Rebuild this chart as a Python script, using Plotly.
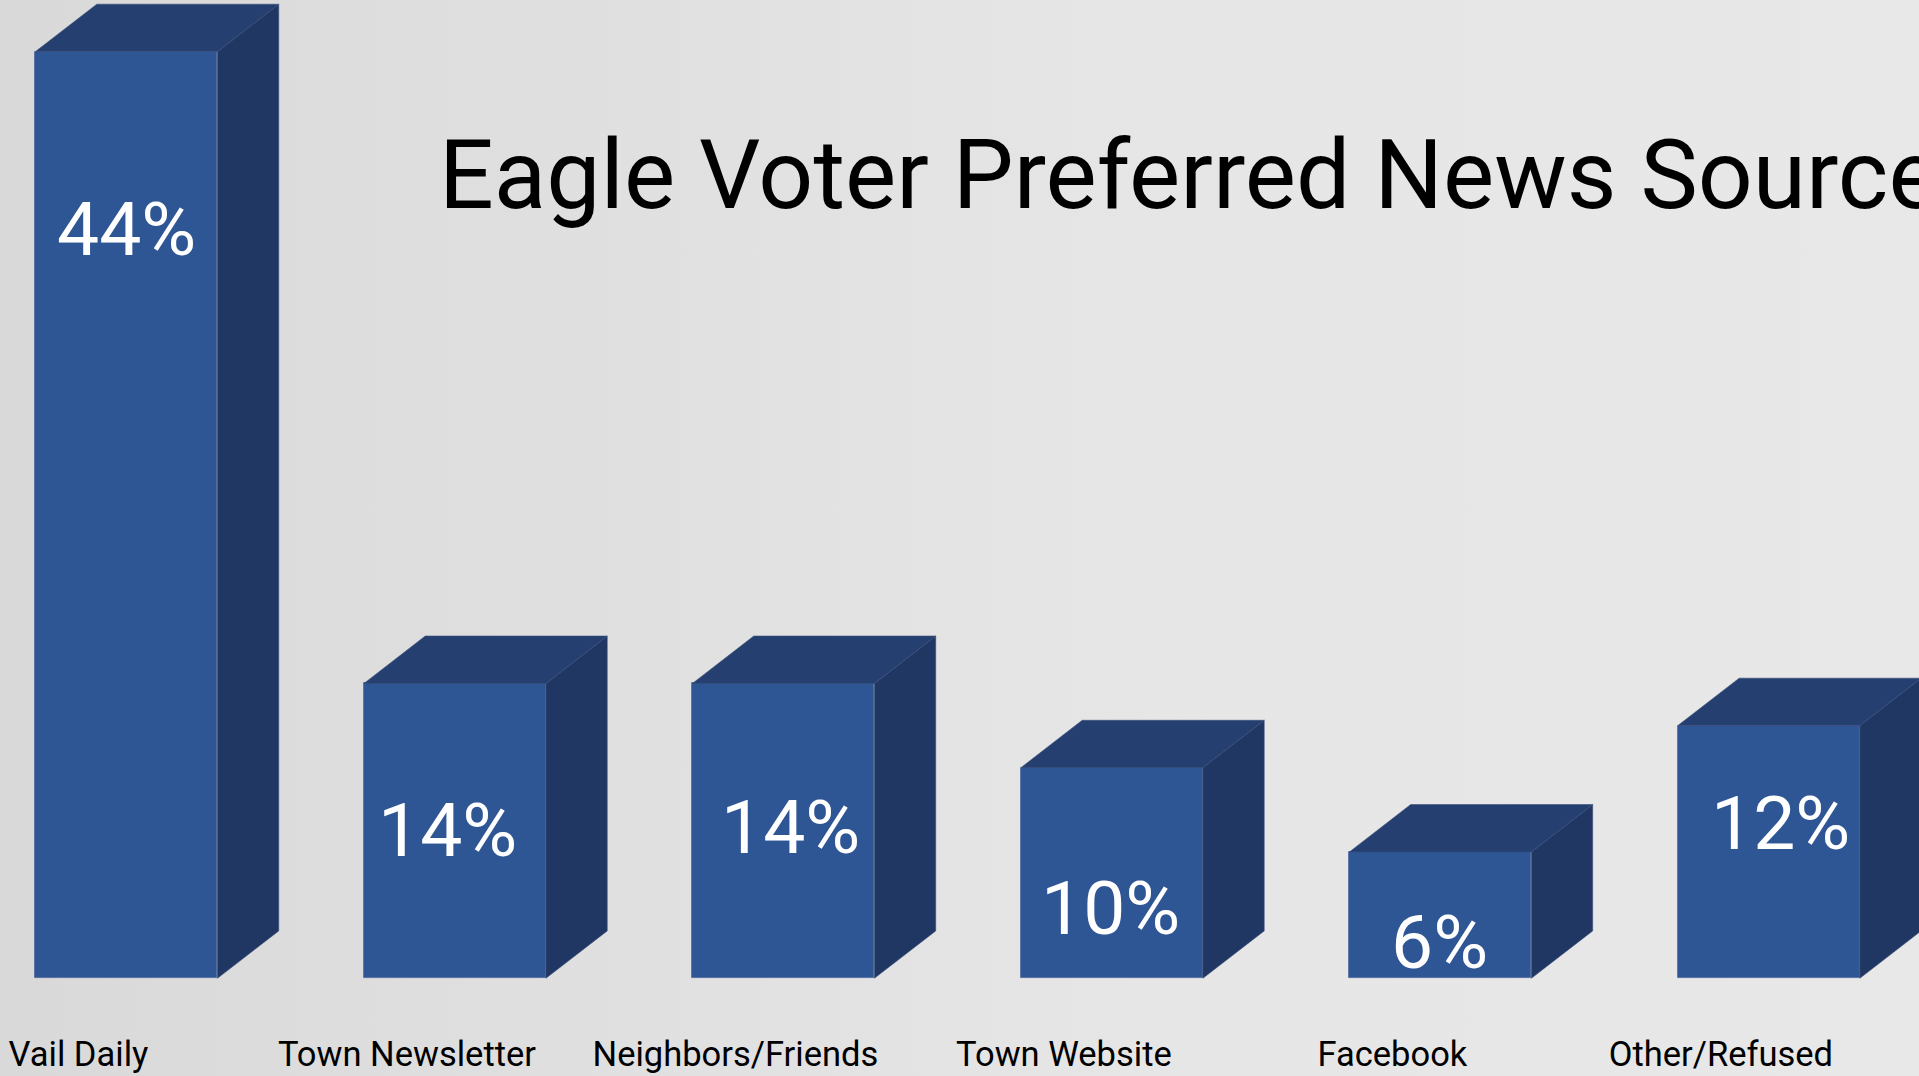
import plotly.graph_objects as go

# ---------------- data ----------------
categories = ["Vail Daily", "Town Newsletter", "Neighbors/Friends",
              "Town Website", "Facebook", "Other/Refused"]
values = [44, 14, 14, 10, 6, 12]
value_labels = ["44%", "14%", "14%", "10%", "6%", "12%"]
title_text = "Eagle Voter Preferred News Source"

# ---------------- layout / style ----------------
W, H = 1919, 1076
FRONT = "#2E5594"
TOP = "#243F70"
SIDE = "#203763"
BAR_W = 0.554          # bar width in category units
DEPTH_X = 0.1866       # 3-D depth offset (category units)
DEPTH_Y = 2.25         # 3-D depth offset (value units)
X_RANGE = [-0.385, 5.457]
Y_RANGE = [-4.64, 46.45]
label_y = [35.6, 7.05, 7.2, 3.35, 1.72, 7.35]   # vertical placement of value labels
label_dx = [0, -7, 7, -1, -1, 12]               # pixel nudges of value labels

xs = list(range(len(categories)))

fig = go.Figure()

# background gradient panel (main axes, drawn underneath)
fig.add_trace(go.Scatter(
    x=[X_RANGE[0], X_RANGE[1], X_RANGE[1], X_RANGE[0], X_RANGE[0]],
    y=[Y_RANGE[0], Y_RANGE[0], Y_RANGE[1], Y_RANGE[1], Y_RANGE[0]],
    mode="lines", line=dict(width=0), fill="toself",
    fillgradient=dict(type="horizontal",
                      colorscale=[[0, "#d9d9d9"], [0.6, "#e6e6e6"], [1, "#e8e8e8"]]),
    hoverinfo="skip", showlegend=False, xaxis="x", yaxis="y"))

# front faces (overlay axes, drawn above background)
fig.add_trace(go.Bar(x=xs, y=values, width=BAR_W,
                     marker=dict(color=FRONT, line=dict(width=0.8, color="#4a659a")),
                     hoverinfo="skip", showlegend=False, xaxis="x2", yaxis="y2"))

# side and top faces derived from the values
side_x, side_y, top_x, top_y = [], [], [], []
for x, v in zip(xs, values):
    l, r = x - BAR_W / 2, x + BAR_W / 2
    side_x += [r, r, r + DEPTH_X, r + DEPTH_X, r, None]
    side_y += [0, v, v + DEPTH_Y, DEPTH_Y, 0, None]
    top_x += [l, l + DEPTH_X, r + DEPTH_X, r, l, None]
    top_y += [v, v + DEPTH_Y, v + DEPTH_Y, v, v, None]

fig.add_trace(go.Scatter(x=side_x, y=side_y, mode="lines", line=dict(width=0.6, color="#3a4f78"),
                         fill="toself", fillcolor=SIDE, hoverinfo="skip", showlegend=False,
                         xaxis="x2", yaxis="y2"))
fig.add_trace(go.Scatter(x=top_x, y=top_y, mode="lines", line=dict(width=0.6, color="#3a4f78"),
                         fill="toself", fillcolor=TOP, hoverinfo="skip", showlegend=False,
                         xaxis="x2", yaxis="y2"))

# value labels
for x, ly, dx, t in zip(xs, label_y, label_dx, value_labels):
    fig.add_annotation(x=x, y=ly, xref="x2", yref="y2", text=t, showarrow=False,
                       xshift=dx,
                       font=dict(family="Roboto", size=75, color="white"),
                       xanchor="center", yanchor="middle")

# title
fig.add_annotation(xref="paper", yref="paper", x=437 / W, y=1 - 175 / H,
                   text=title_text, showarrow=False, xanchor="left", yanchor="middle",
                   font=dict(family="Roboto", size=96.5, color="black"))

hidden = dict(showgrid=False, zeroline=False, showline=False, showticklabels=False,
              ticks="", fixedrange=True)
fig.update_layout(
    width=W, height=H,
    margin=dict(l=0, r=0, t=0, b=0),
    paper_bgcolor="#e0e0e0", plot_bgcolor="#e0e0e0",
    bargap=0, showlegend=False,
    xaxis=dict(range=X_RANGE, tickvals=xs, ticktext=categories,
               ticklabelposition="inside", ticklabelshift=-48, ticklabelstandoff=0,
               tickfont=dict(family="Roboto", size=34.5, color="black"),
               showgrid=False, zeroline=False, showline=False, ticks="", fixedrange=True),
    yaxis=dict(range=Y_RANGE, **hidden),
    xaxis2=dict(range=X_RANGE, overlaying="x", **hidden),
    yaxis2=dict(range=Y_RANGE, overlaying="y", **hidden),
)

fig.write_html("out.html", config={"displayModeBar": False},
               post_script="document.body.style.margin='0';document.body.style.overflow='hidden';")
